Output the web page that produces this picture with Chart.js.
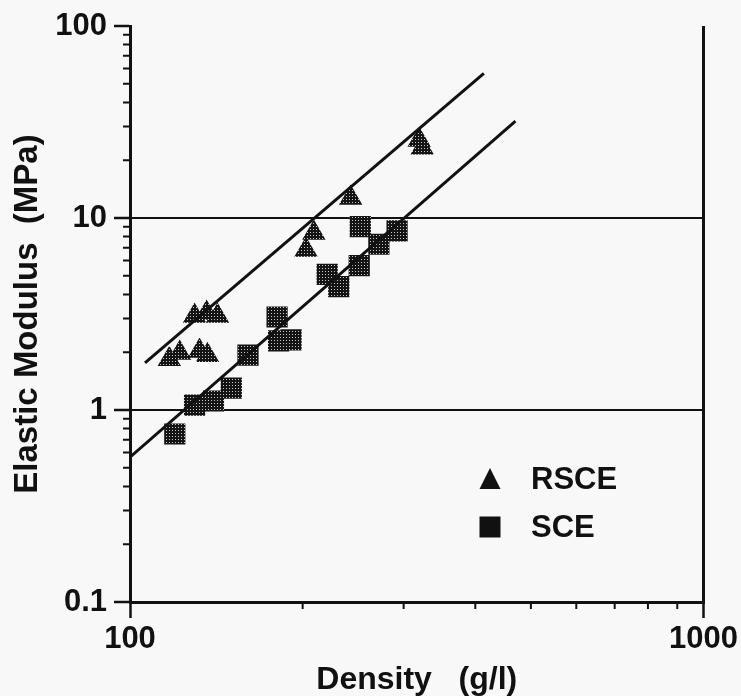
<!DOCTYPE html>
<html lang="en">
<head>
<meta charset="UTF-8">
<title>Elastic Modulus vs Density</title>
<script src="https://cdn.jsdelivr.net/npm/chart.js"></script>
<style>
  body { margin: 0; background: #f8f8f8; }
  #wrap { width: 741px; height: 696px; }
</style>
</head>
<body>
<div id="wrap"><canvas id="modulusChart" width="741" height="696"></canvas></div>
<script>
// RSCE samples (triangles)
const rsceDensity = [117.1, 122.1, 132.2, 136.5, 129.6, 136.0, 142.1, 202.7, 209.2, 242.5, 319.3, 323.2];
const rsceModulus = [1.84, 1.98, 2.03, 1.93, 3.09, 3.20, 3.09, 6.81, 8.35, 12.7, 25.5, 23.2];

// SCE samples (squares)
const sceDensity = [119.7, 129.6, 139.8, 150.2, 160.6, 180.5, 181.6, 190.9, 220.7, 231.2, 251.0, 252.1, 271.6, 292.2];
const sceModulus = [0.75, 1.06, 1.114, 1.30, 1.93, 3.05, 2.29, 2.32, 5.09, 4.39, 5.65, 9.01, 7.30, 8.56];

// fitted lines (end points)
const rsceFitDensity = [106.2, 414];
const rsceFitModulus = [1.76, 56.7];
const sceFitDensity = [100, 470];
const sceFitModulus = [0.568, 32.0];

// axis labels
const xLabelValues = [100, 1000];
const xTickLabels = ['100', '1000'];
const yLabelValues = [0.1, 1, 10, 100];
const yTickLabels = ['0.1', '1', '10', '100'];

const ink = '#111';
const fontFamily = "'Liberation Sans', Arial, Helvetica, sans-serif";

function toPoints(xs, ys) {
    return xs.map((x, i) => ({ x: x, y: ys[i] }));
}

function isPow10(v) {
    const l = Math.log10(v);
    return Math.abs(l - Math.round(l)) < 1e-6;
}

// 1..9 per decade, like the printed axis
function logTicks(min, max) {
    const ticks = [];
    for (let e = Math.round(Math.log10(min)); e < Math.round(Math.log10(max)); e++) {
        for (let m = 1; m < 10; m++) ticks.push({ value: m * Math.pow(10, e) });
    }
    ticks.push({ value: max });
    return ticks;
}

function labelFor(values, labels) {
    return function (value) {
        const i = values.findIndex(v => Math.abs(v - value) / v < 1e-6);
        return i >= 0 ? labels[i] : '';
    };
}

const canvas = document.getElementById('modulusChart');
const ctx = canvas.getContext('2d');

// dotted halftone fill of the printed markers
function halftone() {
    const c = document.createElement('canvas');
    c.width = 3; c.height = 3;
    const g = c.getContext('2d');
    g.fillStyle = '#141414';
    g.fillRect(0, 0, 3, 3);
    g.fillStyle = '#c8c8c8';
    g.fillRect(1, 1, 1, 1);
    return ctx.createPattern(c, 'repeat');
}
const dots = halftone();

const minorTicks = {
    id: 'minorTicks',
    afterDatasetsDraw(chart) {
        const a = chart.chartArea;
        const c = chart.ctx;
        c.save();
        c.strokeStyle = ink;
        c.lineWidth = 2;
        c.beginPath();
        chart.scales.x.ticks.forEach(t => {
            if (isPow10(t.value)) return;
            const px = chart.scales.x.getPixelForValue(t.value);
            c.moveTo(px, a.bottom);
            c.lineTo(px, a.bottom + 7);
        });
        chart.scales.y.ticks.forEach(t => {
            if (isPow10(t.value)) return;
            const py = chart.scales.y.getPixelForValue(t.value);
            c.moveTo(a.left, py);
            c.lineTo(a.left - 7, py);
        });
        c.stroke();
        c.restore();
    }
};

// legend inside the plot, solid black symbols
const insideLegend = {
    id: 'insideLegend',
    afterDraw(chart) {
        const a = chart.chartArea;
        const c = chart.ctx;
        const x0 = a.left + 360;
        const rows = [
            { label: chart.data.datasets[2].label, style: 'triangle', y: a.top + 453 },
            { label: chart.data.datasets[3].label, style: 'rect', y: a.top + 501 }
        ];
        c.save();
        c.fillStyle = ink;
        c.font = 'bold 31px ' + fontFamily;
        c.textBaseline = 'middle';
        rows.forEach(r => {
            c.beginPath();
            if (r.style === 'triangle') {
                c.moveTo(x0, r.y - 11);
                c.lineTo(x0 + 10.5, r.y + 10);
                c.lineTo(x0 - 10.5, r.y + 10);
                c.closePath();
            } else {
                c.rect(x0 - 10.5, r.y - 10.5, 21, 21);
            }
            c.fill();
            c.fillText(r.label, x0 + 41, r.y + 1);
        });
        c.restore();
    }
};

new Chart(ctx, {
    type: 'scatter',
    data: {
        datasets: [
            {
                label: 'RSCE fit',
                data: toPoints(rsceFitDensity, rsceFitModulus),
                showLine: true,
                borderColor: ink,
                borderWidth: 3,
                pointRadius: 0
            },
            {
                label: 'SCE fit',
                data: toPoints(sceFitDensity, sceFitModulus),
                showLine: true,
                borderColor: ink,
                borderWidth: 3,
                pointRadius: 0
            },
            {
                label: 'RSCE',
                data: toPoints(rsceDensity, rsceModulus),
                pointStyle: 'triangle',
                pointRadius: 13.5,
                backgroundColor: dots,
                borderWidth: 0
            },
            {
                label: 'SCE',
                data: toPoints(sceDensity, sceModulus),
                pointStyle: 'rect',
                pointRadius: 15,
                backgroundColor: dots,
                borderWidth: 0
            }
        ]
    },
    options: {
        responsive: false,
        animation: false,
        events: [],
        layout: { padding: { top: 26, right: 34, left: 0, bottom: 0 } },
        plugins: {
            legend: { display: false },
            tooltip: { enabled: false }
        },
        scales: {
            x: {
                type: 'logarithmic',
                min: 100,
                max: 1000,
                afterBuildTicks: s => { s.ticks = logTicks(100, 1000); },
                afterFit: s => { s.height = 94; },
                border: { display: true, color: ink, width: 3 },
                grid: {
                    color: c => (c.tick && Math.abs(c.tick.value - 1000) < 1e-6) ? ink : 'rgba(0,0,0,0)',
                    lineWidth: 3,
                    tickLength: 16,
                    tickWidth: 2.5,
                    tickColor: c => (c.tick && isPow10(c.tick.value)) ? ink : 'rgba(0,0,0,0)'
                },
                ticks: {
                    autoSkip: false,
                    maxRotation: 0,
                    minRotation: 0,
                    padding: 3,
                    color: ink,
                    font: { family: fontFamily, size: 31, weight: 'bold' },
                    callback: labelFor(xLabelValues, xTickLabels)
                },
                title: {
                    display: true,
                    text: 'Density   (g/l)',
                    color: ink,
                    font: { family: fontFamily, size: 32, weight: 'bold', lineHeight: 1 },
                    padding: { top: 0, bottom: 0 }
                }
            },
            y: {
                type: 'logarithmic',
                min: 0.1,
                max: 100,
                afterBuildTicks: s => { s.ticks = logTicks(0.1, 100); },
                afterFit: s => { s.width = 130; },
                border: { display: true, color: ink, width: 3 },
                grid: {
                    color: c => (c.tick && (Math.abs(c.tick.value - 1) < 1e-6 || Math.abs(c.tick.value - 10) < 1e-6)) ? ink : 'rgba(0,0,0,0)',
                    lineWidth: 2,
                    tickLength: 16,
                    tickWidth: 2.5,
                    tickColor: c => (c.tick && isPow10(c.tick.value)) ? ink : 'rgba(0,0,0,0)'
                },
                ticks: {
                    autoSkip: false,
                    padding: 7,
                    color: ink,
                    font: { family: fontFamily, size: 31, weight: 'bold' },
                    callback: labelFor(yLabelValues, yTickLabels)
                },
                title: {
                    display: true,
                    text: 'Elastic Modulus  (MPa)',
                    color: ink,
                    font: { family: fontFamily, size: 33, weight: 'bold', lineHeight: 1 },
                    padding: { top: 11, bottom: 0 }
                }
            }
        }
    },
    plugins: [minorTicks, insideLegend]
});
</script>
</body>
</html>
